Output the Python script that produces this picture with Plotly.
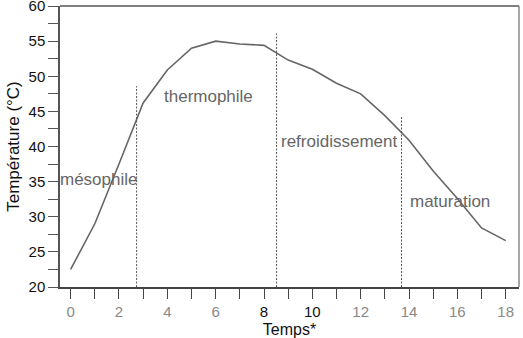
import plotly.graph_objects as go

temps_x = list(range(19))
temps_y = [22.5, 29.0, 37.5, 46.2, 50.9, 54.0, 55.0, 54.6, 54.4, 52.3, 51.0,
           49.0, 47.5, 44.4, 40.9, 36.5, 32.6, 28.4, 26.6]

phase_bounds = [2.73, 8.52, 13.69]
phase_tops = [48.6, 56.1, 44.3]

phase_names = ["mésophile", "thermophile", "refroidissement", "maturation"]
phase_label_x = [1.17, 5.69, 11.09, 15.68]
phase_label_y = [35.25, 47.1, 40.7, 32.2]

x_tick_vals = list(range(19))
x_tick_labels = [str(v) if v % 2 == 0 else "" for v in x_tick_vals]
x_dark_labels = ["8", "10"]
y_tick_vals = [20 + 2.5 * i for i in range(17)]
y_tick_labels = [str(int(v)) if v % 5 == 0 else "" for v in y_tick_vals]

FONT = "Liberation Sans, Arial, Helvetica, sans-serif"

fig = go.Figure()
fig.add_trace(go.Scatter(x=temps_x, y=temps_y, mode="lines",
                         line=dict(color="#666666", width=1.6),
                         showlegend=False, hoverinfo="skip"))

for bx, top in zip(phase_bounds, phase_tops):
    fig.add_trace(go.Scatter(x=[bx, bx], y=[20, top], mode="lines",
                             line=dict(color="#555555", width=1, dash="2px,1.5px"),
                             showlegend=False, hoverinfo="skip"))

for name, lx, ly in zip(phase_names, phase_label_x, phase_label_y):
    fig.add_annotation(x=lx, y=ly, text=name, showarrow=False,
                       font=dict(family=FONT, size=17, color="#666666"))

x_ticktext = []
for t in x_tick_labels:
    if t in x_dark_labels:
        x_ticktext.append(f"<span style='color:#111111'>{t}</span>")
    else:
        x_ticktext.append(t)

fig.update_layout(
    width=523, height=338,
    margin=dict(l=60, r=4, t=6, b=51),
    plot_bgcolor="white", paper_bgcolor="white",
    font=dict(family=FONT, size=15, color="#111111"),
    xaxis=dict(range=[-0.44, 18.55], tickmode="array", tickvals=x_tick_vals,
               ticktext=x_ticktext, ticks="outside", ticklen=10, tickwidth=1.3,
               tickcolor="#444444", showline=True, linecolor="#444444", linewidth=1.5,
               showgrid=False, zeroline=False, ticklabeloverflow="allow", automargin=False,
               tickfont=dict(size=15, color="#888888"),
               title=dict(text="Temps*", font=dict(size=16, color="#111111"), standoff=5)),
    yaxis=dict(range=[20, 60], tickmode="array", tickvals=y_tick_vals,
               ticktext=y_tick_labels, ticks="outside", ticklen=10, tickwidth=1.3,
               tickcolor="#555555", showline=True, linecolor="#555555", linewidth=1.5,
               showgrid=False, zeroline=False, ticklabeloverflow="allow", automargin=False,
               tickfont=dict(size=15, color="#111111"),
               title=dict(text="Température (°C)", font=dict(size=17, color="#111111"), standoff=5)),
    shapes=[
        dict(type="line", xref="paper", yref="paper", x0=0, x1=1, y0=1, y1=1,
             line=dict(color="#555555", width=1.5)),
        dict(type="line", xref="paper", yref="paper", x0=1, x1=1, y0=0, y1=1,
             line=dict(color="#888888", width=1.5)),
    ],
)

fig.write_html("out.html")
